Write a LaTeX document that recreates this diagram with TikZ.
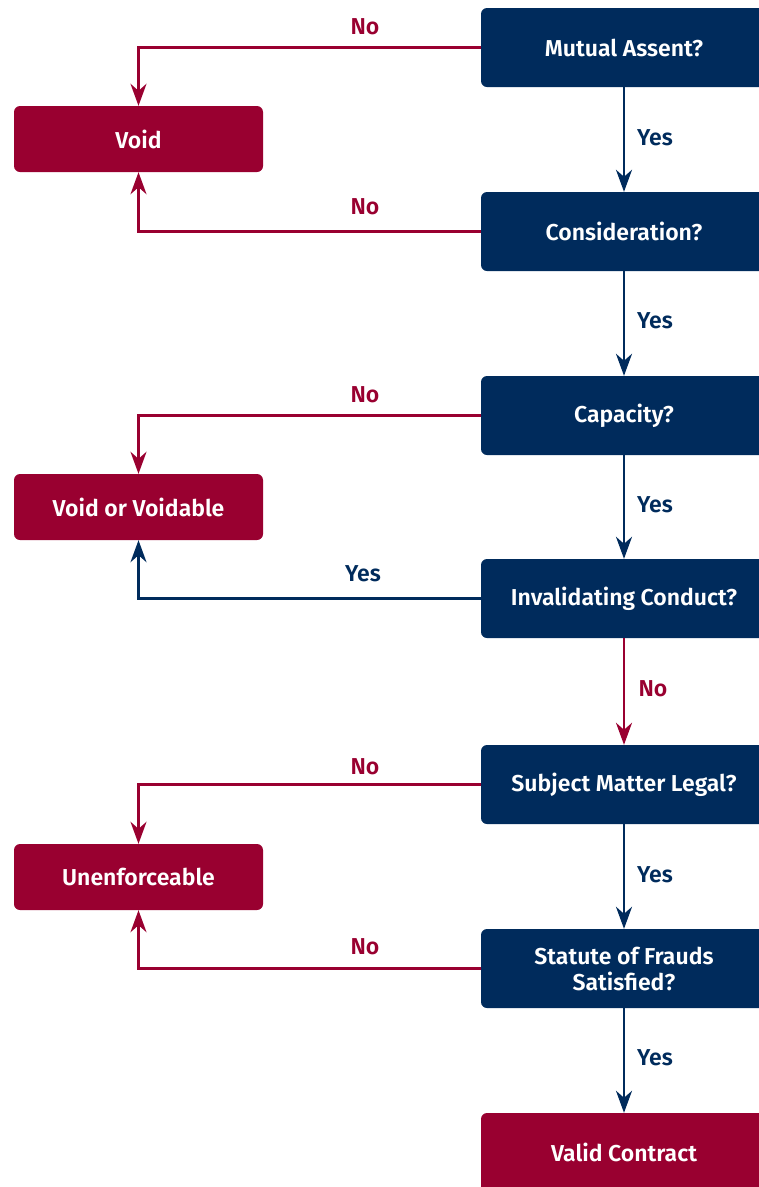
\documentclass[tikz,border=0pt]{standalone}
\usepackage{fontspec}
\setmainfont{Fira Sans}[BoldFont={* SemiBold}]
\usetikzlibrary{arrows.meta}
\definecolor{navy}{RGB}{0,43,92}
\definecolor{wine}{RGB}{153,0,48}
\begin{document}
\begin{tikzpicture}[x=1pt,y=-1pt,
  qbox/.style={fill=navy, rounded corners=6pt, minimum width=286pt, minimum height=79pt,
    text=white, font=\fontsize{23}{26}\selectfont\bfseries, align=center, inner sep=0pt},
  rbox/.style={fill=wine, rounded corners=6pt, minimum width=249pt, minimum height=66pt,
    text=white, font=\fontsize{23}{26}\selectfont\bfseries, align=center, inner sep=0pt},
  endbox/.style={qbox, fill=wine},
  tip/.style={-{Stealth[length=22pt,width=16pt,inset=7pt]}},
  yesline/.style={tip, draw=navy, line width=2.4pt},
  noline/.style={tip, draw=wine, line width=2.4pt},
  ylbl/.style={text=navy, font=\fontsize{23}{26}\selectfont\bfseries, inner sep=0pt},
  nlbl/.style={text=wine, font=\fontsize{23}{26}\selectfont\bfseries, inner sep=0pt}]
\clip (0,0) rectangle (759,1187);
\useasboundingbox (0,0) rectangle (759,1187);

% question column
\node[qbox] (ma)   at (624,47.5)  {Mutual Assent?};
\node[qbox] (cons) at (624,231.5) {Consideration?};
\node[qbox] (cap)  at (624,415.5) {Capacity?};
\node[qbox] (inv)  at (624,598.5) {Invalidating Conduct?};
\node[qbox] (sub)  at (624,784.5) {Subject Matter Legal?};
\node[qbox] (sof)  at (624,968.5) {Statute of Frauds\\Satisfied?};
\node[endbox] (valid) at (624,1152.5) {Valid Contract};

% outcomes
\node[rbox] (void)  at (138.5,139) {Void};
\node[rbox] (vv)    at (138.5,507) {Void or Voidable};
\node[rbox] (unenf) at (138.5,877) {Unenforceable};

% downward path
\draw[yesline] (ma.south) -- (cons.north);
\draw[yesline] (cons.south) -- (cap.north);
\draw[yesline] (cap.south) -- (inv.north);
\draw[noline]  (inv.south) -- (sub.north);
\draw[yesline] (sub.south) -- (sof.north);
\draw[yesline] (sof.south) -- (valid.north);

% side branches
\draw[noline]  (ma.west) -| (void.north);
\draw[noline]  (cons.west) -| (void.south);
\draw[noline]  (cap.west) -| (vv.north);
\draw[yesline] (inv.west) -| (vv.south);
\draw[noline]  (sub.west) -| (unenf.north);
\draw[noline]  (sof.west) -| (unenf.south);

% labels
\node[nlbl] (l1) at (365,27)  {No};
\node[nlbl] (l2) at (365,207) {No};
\node[nlbl] (l3) at (365,395) {No};
\node[ylbl] (l4) at (363,574) {Yes};
\node[nlbl] (l5) at (365,767) {No};
\node[nlbl] (l6) at (365,947) {No};
\node[ylbl] (r1) at (655,138)  {Yes};
\node[ylbl] (r2) at (655,321)  {Yes};
\node[ylbl] (r3) at (655,505)  {Yes};
\node[nlbl] (r4) at (653,689)  {No};
\node[ylbl] (r5) at (655,875)  {Yes};
\node[ylbl] (r6) at (655,1058) {Yes};
\end{tikzpicture}
\end{document}
